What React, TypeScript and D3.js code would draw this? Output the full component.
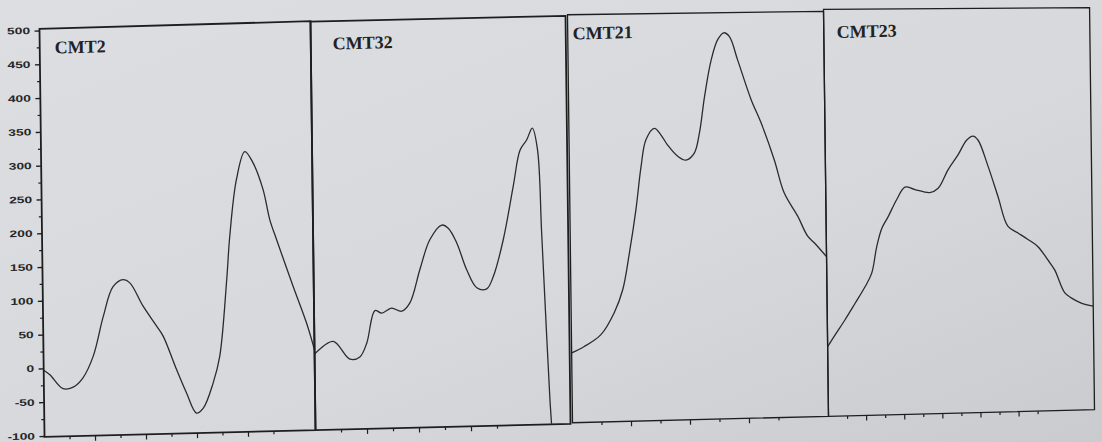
import React from "react";
import * as d3 from "d3";

// Vertical value axis shared by all four traces
const yDomain: [number, number] = [-100, 500];
const yMajorTicks = [-100, -50, 0, 50, 100, 150, 200, 250, 300, 350, 400, 450, 500];
const yMinorTicks = [-75, -25, 25, 75, 125, 175, 225, 275, 325, 375, 425, 475];

// Panel names
const titles = ["CMT2", "CMT32", "CMT21", "CMT23"];

// Horizontal extents (in sample-tick units) and tick marks per panel
const spans = [10.63, 9.81, 8.68, 13.96];
const cmt2Ticks = [1, 2, 3, 4, 5, 6, 7, 8, 9];
const cmt32Ticks = [1, 2, 3, 4, 5, 6, 7];
const cmt21Ticks = [1, 2, 3, 4, 5, 6, 7];
const cmt23Ticks = [1, 2, 3, 4, 5, 6, 7, 8, 9, 10, 11];

// Traces: [position, value]
const cmt2: [number, number][] = [
  [0, -2], [0.24, -9], [0.75, -30], [1.15, -28], [1.53, -15], [1.95, 17], [2.36, 75],
  [2.76, 119], [3.16, 129], [3.42, 124], [3.93, 89], [4.45, 59], [4.7, 44], [5.21, -6],
  [5.59, -41], [5.97, -71], [6.24, -64], [6.64, -27], [6.91, 12], [7.22, 125], [7.36, 189],
  [7.65, 273], [7.99, 314], [8.31, 297], [8.69, 257], [8.94, 212], [9.2, 182], [9.82, 113],
  [10.33, 58], [10.63, 18],
];
const cmt32: [number, number][] = [
  [0, 12], [0.72, 30], [1.36, 3], [1.74, 6], [2.01, 26], [2.34, 74], [2.6, 70], [2.98, 77],
  [3.37, 72], [3.69, 84], [4.09, 133], [4.49, 177], [4.95, 198], [5.2, 193], [5.52, 171],
  [5.89, 131], [6.27, 104], [6.65, 102], [6.91, 120], [7.31, 174], [7.72, 253], [8.0, 306],
  [8.26, 321], [8.48, 338], [8.67, 306], [8.79, 183], [8.93, 35], [9.03, -64], [9.08, -100],
];
const cmt21: [number, number][] = [
  [0, 4], [0.43, 13], [1.0, 30], [1.46, 62], [1.76, 96], [2.0, 150], [2.24, 214], [2.43, 277],
  [2.61, 317], [2.9, 333], [3.12, 323], [3.34, 308], [3.68, 291], [3.96, 285], [4.24, 295],
  [4.42, 324], [4.61, 378], [4.85, 432], [5.08, 462], [5.29, 472], [5.48, 466], [5.75, 431],
  [6.19, 372], [6.52, 337], [6.95, 282], [7.27, 233], [7.72, 198], [8.05, 168], [8.27, 158],
  [8.68, 137],
];
const cmt23: [number, number][] = [
  [0, 4], [0.4, 21], [0.93, 43], [1.47, 67], [2.0, 91], [2.36, 111], [2.64, 150], [2.92, 177],
  [3.26, 194], [3.72, 219], [4.16, 237], [4.68, 233], [5.46, 228], [5.9, 234], [6.43, 261],
  [6.97, 283], [7.42, 304], [7.76, 310], [8.02, 304], [8.53, 265], [9.03, 220], [9.54, 175],
  [10.06, 165], [10.58, 155], [11.1, 144], [11.61, 124], [11.96, 109], [12.47, 75],
  [12.81, 67], [13.33, 59], [13.96, 54],
];

const series = [cmt2, cmt32, cmt21, cmt23];
const tickSets = [cmt2Ticks, cmt32Ticks, cmt21Ticks, cmt23Ticks];

// Frame geometry of each panel (before the sheet tilt is applied)
const frames = [
  { left: 42, right: 313, topL: 16, topR: 15, bottom: 424, stroke: 1.8, titleX: 57, titleY: 41 },
  { left: 313, right: 568, topL: 15.5, topR: 16, bottom: 424, stroke: 1.8, titleX: 335, titleY: 44 },
  { left: 570, right: 826, topL: 15, topR: 18, bottom: 423, stroke: 1.3, titleX: 575, titleY: 40 },
  { left: 826, right: 1092, topL: 16, topR: 21, bottom: 423, stroke: 1.3, titleX: 839, titleY: 45 },
];

const Y_TOP = 18;
const Y_BOTTOM = 423.5;

export default function App() {
  const y = d3.scaleLinear().domain(yDomain).range([Y_BOTTOM, Y_TOP]);
  const axisX = frames[0].left;
  const ink = "#1e1e1e";

  return (
    <svg
      width={1102}
      height={442}
      style={{ position: "absolute", left: 0, top: 0, display: "block" }}
    >
      <defs>
        <linearGradient id="paper" x1="0" y1="0" x2="1" y2="1">
          <stop offset="0" stopColor="#dcdee1" />
          <stop offset="0.6" stopColor="#d6d8db" />
          <stop offset="1" stopColor="#c9cbcf" />
        </linearGradient>
        {frames.map((f, i) => (
          <clipPath id={`clip${i}`} key={i}>
            <rect x={f.left} y={Math.min(f.topL, f.topR)} width={f.right - f.left} height={f.bottom - Math.min(f.topL, f.topR)} />
          </clipPath>
        ))}
      </defs>
      <rect x={0} y={0} width={1102} height={442} fill="url(#paper)" />

      <g transform="matrix(1,-0.025,0.0123,1,-2.7,14)">
        {/* value axis */}
        {yMinorTicks.map((v) => (
          <line key={`m${v}`} x1={axisX - 3} x2={axisX} y1={y(v)} y2={y(v)} stroke={ink} strokeWidth={1.2} />
        ))}
        {yMajorTicks.map((v) => (
          <g key={`M${v}`}>
            <line x1={axisX - 5} x2={axisX} y1={y(v)} y2={y(v)} stroke={ink} strokeWidth={1.4} />
            <text
              transform={`translate(${axisX - 9.5},${y(v) + 2.8}) scale(1.45,1)`}
              textAnchor="end"
              fontFamily="'Liberation Sans', Arial, sans-serif"
              fontWeight="bold"
              fontSize={9.5}
              fill="#262626"
            >
              {v}
            </text>
          </g>
        ))}

        {frames.map((f, i) => {
          const x = d3.scaleLinear().domain([0, spans[i]]).range([f.left, f.right]);
          const line = d3
            .line<[number, number]>()
            .x((d) => x(d[0]))
            .y((d) => y(d[1]))
            .curve(d3.curveCatmullRom.alpha(0.5));
          const framePath = `M${f.left},${f.bottom}L${f.left},${f.topL}L${f.right},${f.topR}L${f.right},${f.bottom}Z`;
          return (
            <g key={titles[i]}>
              <path
                d={line(series[i]) || ""}
                fill="none"
                stroke="#2b2b2b"
                strokeWidth={1.3}
                strokeLinejoin="round"
                clipPath={`url(#clip${i})`}
              />
              <path d={framePath} fill="none" stroke={ink} strokeWidth={f.stroke} strokeLinejoin="miter" />
              {tickSets[i].map((t) => (
                <line
                  key={t}
                  x1={x(t)}
                  x2={x(t)}
                  y1={f.bottom}
                  y2={f.bottom + (t % 2 === 0 ? 5 : 3)}
                  stroke={ink}
                  strokeWidth={1.2}
                />
              ))}
              <text
                x={f.titleX}
                y={f.titleY}
                fontFamily="'Liberation Serif', 'Times New Roman', serif"
                fontWeight="bold"
                fontSize={18}
                fill="#222"
              >
                {titles[i]}
              </text>
            </g>
          );
        })}
      </g>
    </svg>
  );
}
